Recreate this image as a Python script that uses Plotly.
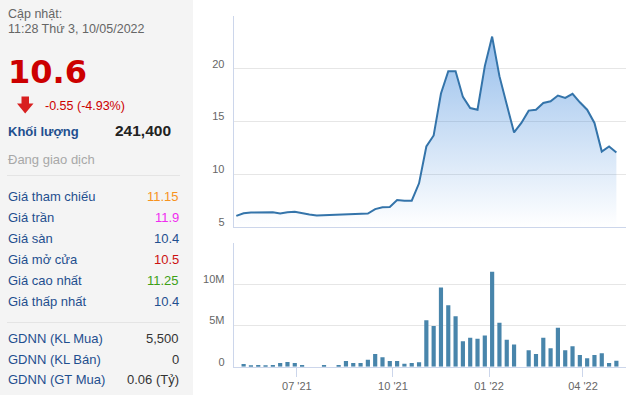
import pandas as pd
import plotly.graph_objects as go

# ---------------- data ----------------
start_date = "2021-05-04"
prices = [6.06, 6.3, 6.38, 6.38, 6.38, 6.4, 6.28, 6.4, 6.44, 6.3,
          6.18, 6.1, 6.12, 6.18, 6.22, 6.25, 6.2, 6.28, 6.28, 6.7,
          6.88, 6.9, 7.55, 7.49, 7.49, 9.14, 12.63, 13.68, 17.65, 19.77,
          19.77, 17.33, 16.28, 16.12, 20.25, 23.05, 19.3, 16.6, 13.96, 14.86,
          16.03, 16.12, 16.76, 16.92, 17.46, 17.24, 17.62, 16.82, 16.12, 14.86,
          12.15, 12.63, 12.06]
volumes_m = [None, 0.32, 0.08, 0.2, 0.08, 0.2, 0.44, 0.56, 0.44, 0.2,
             None, None, 0.2, None, 0.2, 0.68, 0.44, 0.44, 0.84, 1.53,
             1.16, 0.68, 0.68, 0.36, 0.44, 0.55, 5.66, 4.94, 9.64, 7.47,
             6.14, 3.09, 3.53, 3.41, 3.78, 11.53, 5.34, 3.29, 2.69, None,
             2.0, 1.53, 3.53, 2.25, 4.74, 2.0, 2.49, 1.41, 1.04, 1.41,
             1.65, 0.44, 0.72]
price_ticks = [5, 10, 15, 20, 25]
price_tick_text = ["5", "10", "15", "20", ""]
vol_ticks = [0, 5e6, 10e6, 15e6]
vol_tick_text = ["0", "5M", "10M", ""]

update_title = "Cập nhật:"
update_time = "11:28 Thứ 3, 10/05/2022"
last_price = "10.6"
change_text = "-0.55 (-4.93%)"
volume_label = "Khối lượng"
volume_value = "241,400"
status_text = "Đang giao dịch"
price_labels = ["Giá tham chiếu", "Giá trần", "Giá sàn", "Giá mở cửa", "Giá cao nhất", "Giá thấp nhất"]
price_values = ["11.15", "11.9", "10.4", "10.5", "11.25", "10.4"]
price_value_colors = ["#f7931e", "#f02cf0", "#1f4f8f", "#cc1111", "#3da016", "#1f4f8f"]
foreign_labels = ["GDNN (KL Mua)", "GDNN (KL Bán)", "GDNN (GT Mua)"]
foreign_values = ["5,500", "0", "0.06 (Tỷ)"]

# ---------------- figure ----------------
W, H = 640, 395
dates = pd.date_range(start_date, periods=len(prices), freq="7D")
vol = [None if v is None else v * 1e6 for v in volumes_m]


def px(x):
    return x / W


def py(y):
    return 1 - y / H


LINE = "#3474aa"
BAR = "#4885ab"
AXIS = "#ccd6eb"
GRID = "#e6e6e6"
TICKFONT = dict(family="Liberation Sans, Arial", size=11, color="#666666")

fig = go.Figure()
fig.add_trace(go.Scatter(
    x=dates, y=prices, mode="lines",
    line=dict(color=LINE, width=2),
    fill="tozeroy",
    fillgradient=dict(type="vertical",
                      colorscale=[[0, "rgba(47,126,216,0.0)"], [1, "rgba(47,126,216,0.5)"]],
                      start=5, stop=max(prices)),
    xaxis="x", yaxis="y", hoverinfo="skip", showlegend=False,
))
fig.add_trace(go.Bar(
    x=dates, y=vol, marker=dict(color=BAR, line=dict(width=0)),
    width=4 * 86400000,
    xaxis="x2", yaxis="y2", hoverinfo="skip", showlegend=False,
))

xrange = ["2021-05-01 12:00", "2022-05-12 05:00"]
xdom = [px(233.7), px(626)]

fig.update_layout(
    width=W, height=H,
    margin=dict(l=0, r=0, t=0, b=0),
    paper_bgcolor="white", plot_bgcolor="white",
    xaxis=dict(domain=xdom, range=xrange, type="date", showticklabels=False,
               showgrid=False, zeroline=False, showline=True, linecolor=AXIS,
               linewidth=1, ticks="", anchor="y", fixedrange=True),
    yaxis=dict(domain=[py(227), py(16)], range=[5, 25], tickvals=price_ticks,
               ticktext=price_tick_text, showgrid=True, gridcolor=GRID,
               zeroline=False, showline=True, linecolor=AXIS, linewidth=1,
               ticks="", tickfont=TICKFONT, ticklabelstandoff=6,
               ticklabelshift=-5, anchor="x"),
    xaxis2=dict(domain=xdom, range=xrange, type="date", matches="x",
                tick0="2021-07-01", dtick="M3", tickformat="%m '%y",
                ticks="outside", ticklen=9, tickcolor=AXIS, tickwidth=1,
                tickfont=TICKFONT, showgrid=False, zeroline=False,
                showline=True, linecolor=AXIS, linewidth=1, anchor="y2"),
    yaxis2=dict(domain=[py(366.7), py(243.3)], range=[0, 15e6], tickvals=vol_ticks,
                ticktext=vol_tick_text, showgrid=True, gridcolor=GRID,
                zeroline=False, showline=True, linecolor=AXIS, linewidth=1,
                ticks="", tickfont=TICKFONT, ticklabelstandoff=6,
                ticklabelshift=-5, anchor="x2"),
)

shapes = [
    dict(type="rect", xref="paper", yref="paper", x0=0, x1=px(193), y0=0, y1=1,
         fillcolor="#f4f4f4", line=dict(width=0), layer="below"),
    dict(type="line", xref="paper", yref="paper", x0=px(7), x1=px(180),
         y0=py(175.5), y1=py(175.5), line=dict(color="#e4e4e4", width=1)),
    dict(type="line", xref="paper", yref="paper", x0=px(7), x1=px(180),
         y0=py(322.5), y1=py(322.5), line=dict(color="#e4e4e4", width=1)),
    # down arrow icon
    dict(type="path", xref="paper", yref="paper",
         path=("M {a},{b} L {c},{b} L {c},{d} L {e},{d} L {f},{g} L {h},{d} L {i},{d} Z").format(
             a=px(21.5), b=py(96.5), c=px(29), d=py(103.5), e=px(33.5),
             f=px(25.2), g=py(113.5), h=px(17), i=px(21.5)),
         fillcolor="#d82020", line=dict(width=0)),
]
fig.update_layout(shapes=shapes)

ann = []
BASEF = "Liberation Sans, Arial"


def text(x, y, s, size, color, bold=False, anchor="left", family=BASEF):
    ann.append(dict(xref="paper", yref="paper", x=px(x), y=py(y), text=("<b>%s</b>" % s) if bold else s,
                    showarrow=False, xanchor=anchor, yanchor="middle",
                    font=dict(family=family, size=size, color=color)))


text(6, 14.5, update_title, 12.5, "#666666")
text(6, 29, update_time, 12.5, "#666666")
text(6, 72, last_price, 32, "#cc0000", bold=True, family="DejaVu Sans")
text(43, 106, change_text, 12.5, "#cc0000")
text(6, 131.5, volume_label, 13, "#1f4f8f", bold=True)
text(173, 130.5, volume_value, 15.5, "#222222", bold=True, anchor="right")
text(6, 160, status_text, 13, "#a8a8a8")

row_y = [196.7, 217.8, 238.8, 259.8, 280.5, 301.3]
for lab, val, col, yy in zip(price_labels, price_values, price_value_colors, row_y):
    text(6, yy, lab, 13, "#1f4f8f")
    text(181, yy, val, 13, col, anchor="right")

f_y = [338.3, 359, 379.5]
for lab, val, yy in zip(foreign_labels, foreign_values, f_y):
    text(6, yy, lab, 13, "#1f4f8f")
    text(181, yy, val, 13, "#333333", anchor="right")

fig.update_layout(annotations=ann)
fig.write_html("out.html")
